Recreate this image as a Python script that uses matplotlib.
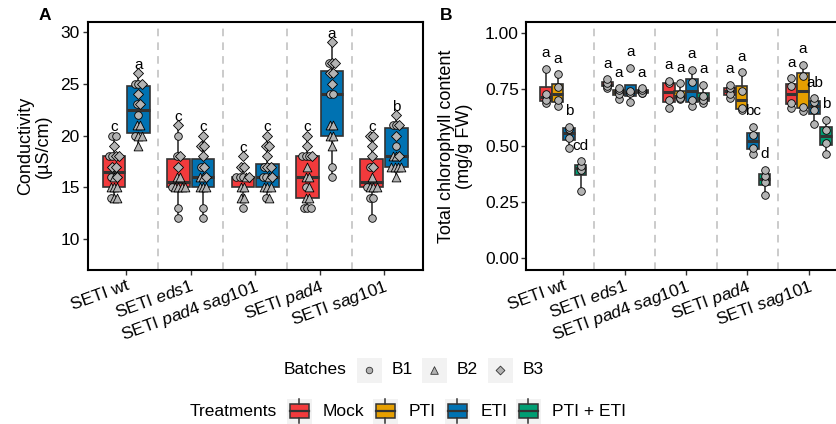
import numpy as np
import matplotlib as mpl
import matplotlib.pyplot as plt
from matplotlib.patches import Rectangle

mpl.rcParams.update({
    'font.family': ['Liberation Sans', 'DejaVu Sans'],
    'mathtext.fontset': 'custom',
    'mathtext.rm': 'Liberation Sans',
    'mathtext.it': 'Liberation Sans:italic',
    'figure.facecolor': 'white',
})

GENOTYPE_LABELS = ['SETI wt', r'SETI $\it{eds1}$', r'SETI $\it{pad4\ sag101}$',
                   r'SETI $\it{pad4}$', r'SETI $\it{sag101}$']
TREATMENTS = ['Mock', 'PTI', 'ETI', 'PTI + ETI']
TREAT_COLORS = ['#F23A3C', '#E69F00', '#0072B2', '#009E73']
BATCHES = ['B1', 'B2', 'B3']
BATCH_MARKERS = ['o', '^', 'D']

# conductivity (uS/cm), one list per genotype, split by batch
COND_MOCK_B1 = [[20, 20, 18, 18, 16, 14], [20, 18, 15, 13, 12], [16, 16, 16, 13],
                [18, 18, 18, 15, 13, 13, 13], [17, 15, 14, 14, 12]]
COND_MOCK_B2 = [[16, 15, 15, 15, 14, 14], [16, 16, 15, 15, 15, 15], [16, 15, 15, 14, 14],
                [17, 16, 16, 15, 14, 14], [16, 15, 15, 15]]
COND_MOCK_B3 = [[19, 18, 17, 18, 16, 17], [21, 18, 17], [18, 17, 17, 16],
                [20, 19, 18], [20, 20, 19, 18, 17]]
COND_ETI_B1 = [[25, 25, 23, 22, 20], [17, 13, 12], [17, 16, 16, 14],
               [27, 24, 24, 17, 16], [21, 21, 19]]
COND_ETI_B2 = [[21, 21, 20, 20, 19], [16, 16, 15, 15, 15], [16, 15, 15, 15, 14],
               [21, 21, 20, 20, 19], [18, 18, 17, 17, 17, 17, 16]]
COND_ETI_B3 = [[26, 25, 24, 23], [20, 19, 19, 18, 17, 16], [20, 19, 19, 18, 17, 17, 16],
               [29, 27, 27, 26, 26, 25], [22, 21, 20, 18]]
COND_LETTERS_MOCK = ['c', 'c', 'c', 'c', 'c']
COND_LETTERS_ETI = ['a', 'c', 'c', 'a', 'b']

# total chlorophyll (mg/g FW), one list per genotype
CHL_MOCK = [[0.69, 0.70, 0.73, 0.84], [0.753, 0.765, 0.775, 0.793],
            [0.665, 0.70, 0.775, 0.786], [0.709, 0.728, 0.753, 0.768],
            [0.668, 0.69, 0.765, 0.798]]
CHL_PTI = [[0.675, 0.70, 0.76, 0.815], [0.706, 0.728, 0.745, 0.753],
           [0.705, 0.712, 0.728, 0.775], [0.657, 0.665, 0.741, 0.824],
           [0.654, 0.672, 0.808, 0.857]]
CHL_ETI = [[0.49, 0.535, 0.573, 0.583], [0.694, 0.731, 0.741, 0.845],
           [0.675, 0.70, 0.783, 0.835], [0.462, 0.49, 0.547, 0.583],
           [0.594, 0.657, 0.694, 0.709]]
CHL_PTIETI = [[0.30, 0.39, 0.41, 0.43], [0.731, 0.735, 0.745, 0.753],
              [0.687, 0.70, 0.72, 0.768], [0.281, 0.34, 0.366, 0.391],
              [0.462, 0.513, 0.569, 0.613]]
CHL_LETTERS = [['a', 'a', 'a', 'a', 'a'], ['a', 'a', 'a', 'a', 'a'],
               ['b', 'a', 'a', 'bc', 'ab'], ['cd', 'a', 'a', 'd', 'b']]

W, H = 837, 424
EDGE = '#333333'
PT_FILL = '#B3B3B3'
FS = 12.5


def style_axes(ax, ylim, yticks, ylabels):
    ax.set_xlim(0.4, 5.6)
    ax.set_ylim(*ylim)
    ax.set_yticks(yticks)
    ax.set_yticklabels(ylabels, fontsize=FS, color='black')
    ax.set_xticks(range(1, 6))
    ax.set_xticklabels(GENOTYPE_LABELS, fontsize=FS, rotation=20, ha='right',
                       va='top', rotation_mode='anchor')
    ax.tick_params(length=3.5, width=1, color='#333333', pad=2)
    for s in ax.spines.values():
        s.set_linewidth(1.5)
        s.set_color('black')
    for xs in [1.5, 2.5, 3.5, 4.5]:
        ax.axvline(xs, color='#BDBDBD', lw=1.1, ls=(0, (5, 4)), zorder=0)


def draw_boxes(ax, data, positions, color, width):
    bp = ax.boxplot(data, positions=positions, widths=width, patch_artist=True,
                    showfliers=False, showcaps=False, whis=1.5, zorder=2,
                    manage_ticks=False,
                    boxprops=dict(facecolor=color, edgecolor=EDGE, linewidth=1.2),
                    medianprops=dict(color=EDGE, linewidth=2.2),
                    whiskerprops=dict(color=EDGE, linewidth=1.2))
    return bp


def spread(values, step):
    # side-by-side offsets for equal values
    values = np.asarray(values, dtype=float)
    offs = np.zeros(len(values))
    for v in np.unique(values):
        idx = np.where(values == v)[0]
        m = len(idx)
        offs[idx] = (np.arange(m) - (m - 1) / 2) * step
    return offs


fig = plt.figure(figsize=(W / 100, H / 100), dpi=100)
axA = fig.add_axes([87.5 / W, 1 - 270 / H, 335.2 / W, 248.3 / H])
axB = fig.add_axes([526.5 / W, 1 - 270 / H, 319 / W, 248.3 / H])

# ---- panel A: conductivity ----
sets = [(COND_MOCK_B1, COND_MOCK_B2, COND_MOCK_B3, TREAT_COLORS[0], -0.19, COND_LETTERS_MOCK),
        (COND_ETI_B1, COND_ETI_B2, COND_ETI_B3, TREAT_COLORS[2], 0.19, COND_LETTERS_ETI)]
for b1, b2, b3, col, dx, letters in sets:
    groups = [a + b + c for a, b, c in zip(b1, b2, b3)]
    pos = [i + 1 + dx for i in range(5)]
    draw_boxes(axA, groups, pos, col, 0.35)
    for gi in range(5):
        vals = b1[gi] + b2[gi] + b3[gi]
        kinds = [0] * len(b1[gi]) + [1] * len(b2[gi]) + [2] * len(b3[gi])
        offs = spread(vals, 0.05)
        for k in range(3):
            sel = [j for j in range(len(vals)) if kinds[j] == k]
            axA.scatter([pos[gi] + offs[j] for j in sel], [vals[j] for j in sel],
                        marker=BATCH_MARKERS[k], s=[30, 40, 26][k], c=PT_FILL,
                        edgecolors='black', linewidths=0.6, zorder=3)
        axA.text(pos[gi], max(vals) + 0.8, letters[gi], ha='center', va='center',
                 fontsize=11, zorder=4)
style_axes(axA, (7.0, 31.0), [10, 15, 20, 25, 30], ['10', '15', '20', '25', '30'])
axA.set_ylabel('Conductivity\n(µS/cm)', fontsize=FS + 0.5, linespacing=1.1)
axA.yaxis.set_label_coords(-0.105, 0.5)

# ---- panel B: chlorophyll ----
chl = [CHL_MOCK, CHL_PTI, CHL_ETI, CHL_PTIETI]
for ti, dx in enumerate([-0.281, -0.094, 0.094, 0.281]):
    pos = [i + 1 + dx for i in range(5)]
    draw_boxes(axB, chl[ti], pos, TREAT_COLORS[ti], 0.19)
    for gi in range(5):
        vals = chl[ti][gi]
        axB.scatter([pos[gi]] * len(vals), vals, marker='o', s=30, c=PT_FILL,
                    edgecolors='black', linewidths=0.6, zorder=3)
        axB.text(pos[gi], max(vals) + 0.07, CHL_LETTERS[ti][gi], ha='center',
                 va='center', fontsize=11, zorder=4)
style_axes(axB, (-0.052, 1.049), [0, 0.25, 0.5, 0.75, 1.0],
           ['0.00', '0.25', '0.50', '0.75', '1.00'])
axB.set_ylabel('Total chlorophyll content\n(mg/g FW)', fontsize=FS + 0.5, linespacing=1.1)
axB.yaxis.set_label_coords(-0.168, 0.5)

fig.text(45 / W, 1 - 16 / H, 'A', fontsize=FS, fontweight='bold', ha='center', va='center')
fig.text(446 / W, 1 - 16 / H, 'B', fontsize=FS, fontweight='bold', ha='center', va='center')

# ---- legends (drawn in pixel space) ----
lax = fig.add_axes([0, 0, 1, 1], zorder=5)
lax.set_xlim(0, W)
lax.set_ylim(H, 0)
lax.axis('off')

y1 = 370
lax.text(347, y1, 'Batches', fontsize=FS, ha='right', va='center')
for k, (x0, lab) in enumerate(zip([357, 422, 488], BATCHES)):
    lax.add_patch(Rectangle((x0, y1 - 12.5), 25, 25, color='#F2F2F2', lw=0))
    lax.scatter([x0 + 12.5], [y1], marker=BATCH_MARKERS[k], s=[22, 30, 20][k],
                c=PT_FILL, edgecolors='#333333', linewidths=0.6)
    lax.text(x0 + 35, y1, lab, fontsize=FS, ha='left', va='center')

y2 = 411
lax.text(277, y2, 'Treatments', fontsize=FS, ha='right', va='center')
for k, (x0, lab) in enumerate(zip([287, 373, 445, 516], TREATMENTS)):
    lax.add_patch(Rectangle((x0, y2 - 12.5), 25, 25, color='#F2F2F2', lw=0))
    xc = x0 + 12.5
    lax.plot([xc, xc], [y2 - 12, y2 - 7], color=EDGE, lw=1.1)
    lax.plot([xc, xc], [y2 + 7, y2 + 12], color=EDGE, lw=1.1)
    lax.add_patch(Rectangle((x0 + 3, y2 - 7), 19, 14, facecolor=TREAT_COLORS[k],
                            edgecolor=EDGE, lw=1.1))
    lax.plot([x0 + 3, x0 + 22], [y2, y2], color=EDGE, lw=1.6)
    lax.text(x0 + 36, y2, lab, fontsize=FS, ha='left', va='center')

fig.savefig('out.png', dpi=100)
